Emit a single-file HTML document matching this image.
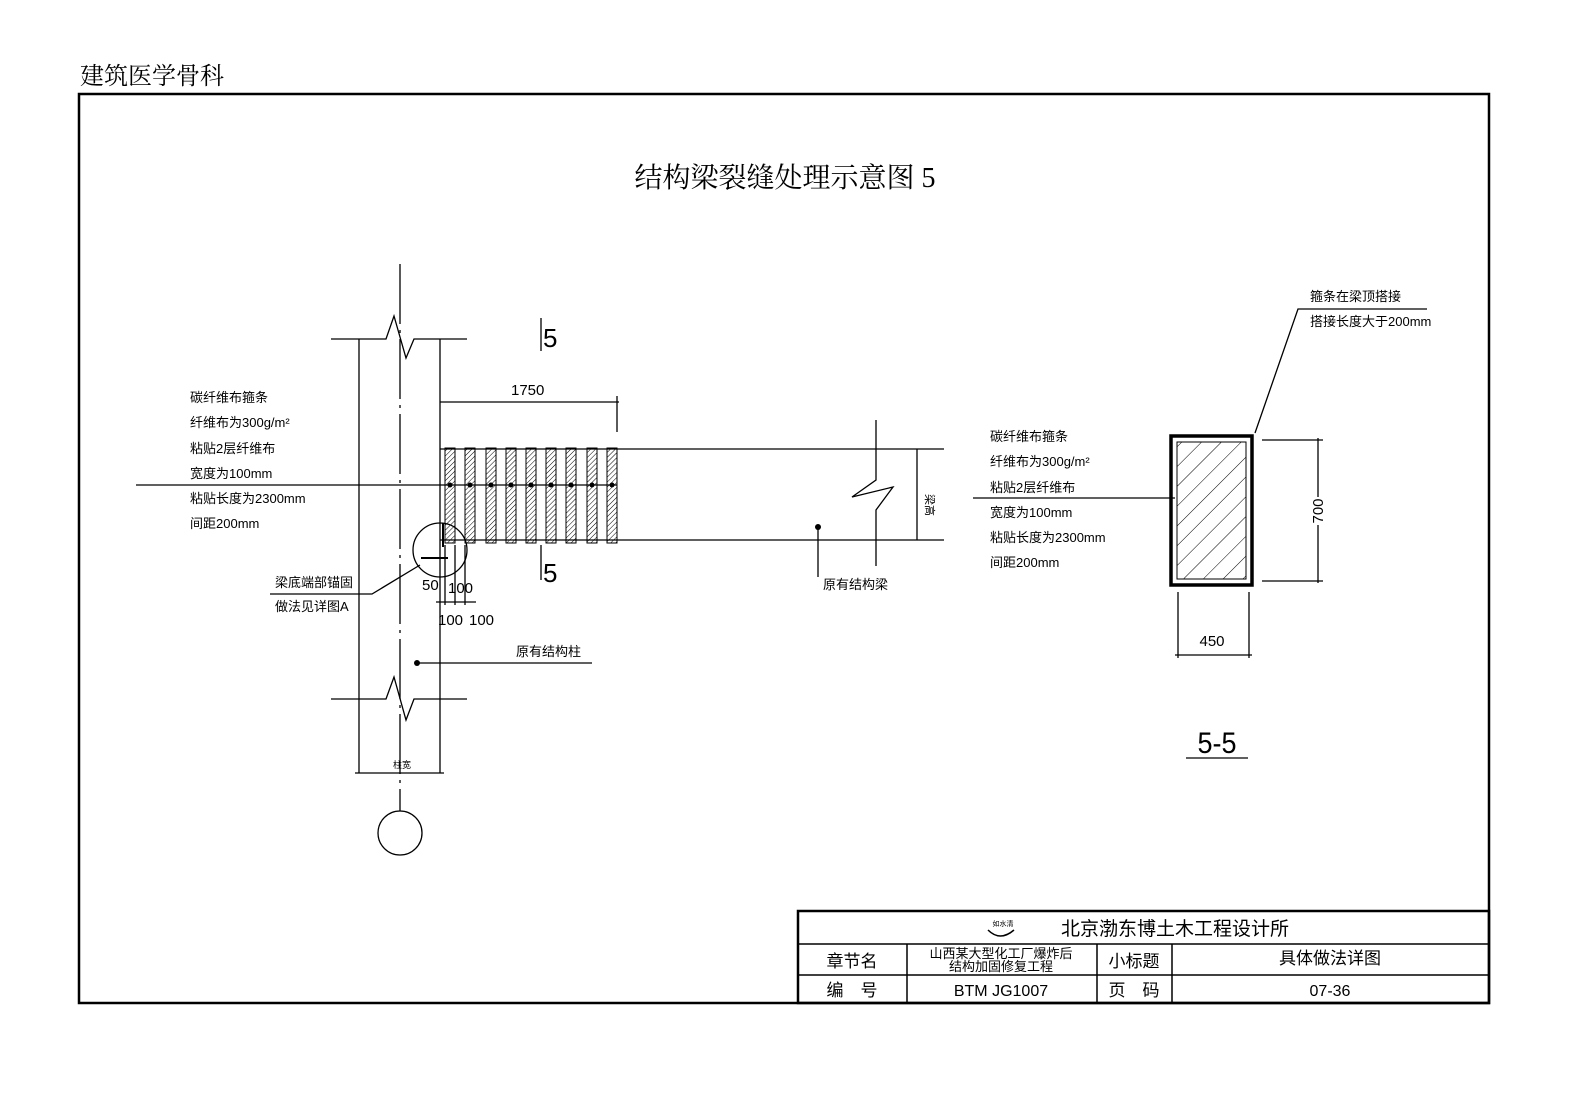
<!DOCTYPE html>
<html><head><meta charset="utf-8"><style>
html,body{margin:0;padding:0;background:#fff;}
svg{display:block}
text{font-family:"Liberation Sans","Noto Sans CJK SC",sans-serif;fill:#000}
.s{font-family:"Liberation Serif","Noto Serif CJK SC",serif}
</style></head><body>
<svg width="1571" height="1098" viewBox="0 0 1571 1098" xmlns="http://www.w3.org/2000/svg">
<defs>
<pattern id="h" width="3.5" height="3.5" patternUnits="userSpaceOnUse" patternTransform="rotate(45)">
<line x1="0" y1="0" x2="0" y2="3.5" stroke="#000" stroke-width="1"/></pattern>
<pattern id="h2" width="14" height="14" patternUnits="userSpaceOnUse" patternTransform="rotate(45)">
<line x1="0" y1="0" x2="0" y2="14" stroke="#000" stroke-width="1"/></pattern>
</defs>
<text x="80" y="84" class="s" font-size="24">建筑医学骨科</text>
<rect x="79" y="94" width="1410" height="909" fill="none" stroke="#000" stroke-width="2.5"/>
<text x="785" y="187" class="s" font-size="28" text-anchor="middle">结构梁裂缝处理示意图 5</text>

<g stroke="#000" stroke-width="1.3" fill="none">
<line x1="400" y1="264" x2="400" y2="811" stroke-dasharray="60 6 3 6"/>
<polyline points="331,339 386,339 394,316 406,358 414,339 467,339"/>
<polyline points="331,699 386,699 394,677 406,720 414,699 467,699"/>
<line x1="359" y1="339" x2="359" y2="773"/>
<line x1="440" y1="339" x2="440" y2="773"/>
<line x1="355" y1="773" x2="444" y2="773"/>
<circle cx="400" cy="833" r="22"/>
<line x1="440" y1="449" x2="944" y2="449"/>
<line x1="440" y1="540" x2="944" y2="540"/>
<polyline points="876,420 876,480 852,497 893,487 876,510 876,566"/>
<line x1="917" y1="449" x2="917" y2="540"/>
<line x1="440" y1="402" x2="619" y2="402"/>
<line x1="617" y1="396" x2="617" y2="432"/>
<line x1="136" y1="485" x2="617" y2="485"/>
<line x1="541" y1="318" x2="541" y2="351"/>
<line x1="541" y1="545" x2="541" y2="580"/>
<circle cx="440" cy="550" r="27"/>
<polyline points="270,594 372,594 420,565"/>
<line x1="443" y1="523" x2="443" y2="547" stroke-width="2"/>
<line x1="421" y1="558" x2="448" y2="558" stroke-width="2"/>
<line x1="445" y1="545" x2="445" y2="605"/>
<line x1="455" y1="545" x2="455" y2="605"/>
<line x1="465" y1="545" x2="465" y2="605"/>
<line x1="436" y1="602" x2="476" y2="602"/>
<line x1="415" y1="663" x2="592" y2="663"/>
<line x1="818" y1="527" x2="818" y2="577"/>
</g>
<g stroke="#000" stroke-width="1">
<rect x="445" y="448" width="10" height="95" fill="url(#h)"/>
<rect x="465" y="448" width="10" height="95" fill="url(#h)"/>
<rect x="486" y="448" width="10" height="95" fill="url(#h)"/>
<rect x="506" y="448" width="10" height="95" fill="url(#h)"/>
<rect x="526" y="448" width="10" height="95" fill="url(#h)"/>
<rect x="546" y="448" width="10" height="95" fill="url(#h)"/>
<rect x="566" y="448" width="10" height="95" fill="url(#h)"/>
<rect x="587" y="448" width="10" height="95" fill="url(#h)"/>
<rect x="607" y="448" width="10" height="95" fill="url(#h)"/>
</g>
<g fill="#000">
<circle cx="450" cy="485" r="2.5"/><circle cx="470" cy="485" r="2.5"/><circle cx="491" cy="485" r="2.5"/>
<circle cx="511" cy="485" r="2.5"/><circle cx="531" cy="485" r="2.5"/><circle cx="551" cy="485" r="2.5"/>
<circle cx="571" cy="485" r="2.5"/><circle cx="592" cy="485" r="2.5"/><circle cx="612" cy="485" r="2.5"/>
<circle cx="417" cy="663" r="3"/><circle cx="818" cy="527" r="3"/>
</g>
<text x="511" y="395" font-size="15">1750</text>
<text x="543" y="347" font-size="26">5</text>
<text x="543" y="582" font-size="26">5</text>
<text x="926" y="494" font-size="11" transform="rotate(90 926 494)">梁高</text>
<g font-size="13">
<text x="190" y="402">碳纤维布箍条</text>
<text x="190" y="427">纤维布为300g/m²</text>
<text x="190" y="453">粘贴2层纤维布</text>
<text x="190" y="478">宽度为100mm</text>
<text x="190" y="503">粘贴长度为2300mm</text>
<text x="190" y="528">间距200mm</text>
<text x="275" y="587">梁底端部锚固</text>
<text x="275" y="611">做法见详图A</text>
<text x="516" y="656">原有结构柱</text>
<text x="823" y="589">原有结构梁</text>
<text x="990" y="441">碳纤维布箍条</text>
<text x="990" y="466">纤维布为300g/m²</text>
<text x="990" y="492">粘贴2层纤维布</text>
<text x="990" y="517">宽度为100mm</text>
<text x="990" y="542">粘贴长度为2300mm</text>
<text x="990" y="567">间距200mm</text>
<text x="1310" y="301">箍条在梁顶搭接</text>
<text x="1310" y="326">搭接长度大于200mm</text>
</g>
<g font-size="15">
<text x="422" y="590">50</text>
<text x="448" y="593">100</text>
<text x="438" y="625">100</text>
<text x="469" y="625">100</text>
<text x="393" y="768" font-size="9">柱宽</text>
</g>
<g stroke="#000" fill="none">
<rect x="1171" y="436" width="81" height="149" stroke-width="3.5"/>
<rect x="1177" y="442" width="69" height="137" fill="url(#h2)" stroke-width="1"/>
<line x1="973" y1="498" x2="1175" y2="498" stroke-width="1.3"/>
<polyline points="1255,433 1298,309 1427,309" stroke-width="1.3"/>
<line x1="1262" y1="440" x2="1323" y2="440" stroke-width="1.3"/>
<line x1="1262" y1="581" x2="1323" y2="581" stroke-width="1.3"/>
<line x1="1318" y1="438" x2="1318" y2="497" stroke-width="1.3"/>
<line x1="1318" y1="525" x2="1318" y2="583" stroke-width="1.3"/>
<line x1="1178" y1="592" x2="1178" y2="658" stroke-width="1.3"/>
<line x1="1249" y1="592" x2="1249" y2="658" stroke-width="1.3"/>
<line x1="1175" y1="655" x2="1252" y2="655" stroke-width="1.3"/>
<line x1="1186" y1="758" x2="1248" y2="758" stroke-width="1.3"/>
</g>
<text x="1323" y="511" font-size="15" text-anchor="middle" transform="rotate(-90 1323 511)">700</text>
<text x="1212" y="646" font-size="15" text-anchor="middle">450</text>
<text x="1217" y="753" font-size="30" font-weight="300" text-anchor="middle" transform="translate(1217 0) scale(0.9 1) translate(-1217 0)">5-5</text>
<g stroke="#000" fill="none">
<rect x="798" y="911" width="691" height="92" stroke-width="2.5"/>
<line x1="798" y1="944" x2="1489" y2="944" stroke-width="1.5"/>
<line x1="798" y1="975" x2="1489" y2="975" stroke-width="1.5"/>
<line x1="907" y1="944" x2="907" y2="1003" stroke-width="1.5"/>
<line x1="1097" y1="944" x2="1097" y2="1003" stroke-width="1.5"/>
<line x1="1172" y1="944" x2="1172" y2="1003" stroke-width="1.5"/>
<path d="M988 930 q12 12 26 0" stroke-width="1.5"/>
</g>
<text x="1003" y="926" font-size="7" text-anchor="middle">如水清</text>
<text x="1175" y="935" font-size="19" text-anchor="middle">北京渤东博土木工程设计所</text>
<text x="852" y="967" font-size="17" text-anchor="middle">章节名</text>
<text x="1001" y="958" font-size="13" text-anchor="middle">山西某大型化工厂爆炸后</text>
<text x="1001" y="971" font-size="13" text-anchor="middle">结构加固修复工程</text>
<text x="1134" y="967" font-size="17" text-anchor="middle">小标题</text>
<text x="1330" y="964" font-size="17" text-anchor="middle">具体做法详图</text>
<text x="852" y="996" font-size="17" text-anchor="middle">编　号</text>
<text x="1001" y="996" font-size="16" text-anchor="middle">BTM JG1007</text>
<text x="1134" y="996" font-size="17" text-anchor="middle">页　码</text>
<text x="1330" y="996" font-size="16" text-anchor="middle">07-36</text>
</svg>
</body></html>
